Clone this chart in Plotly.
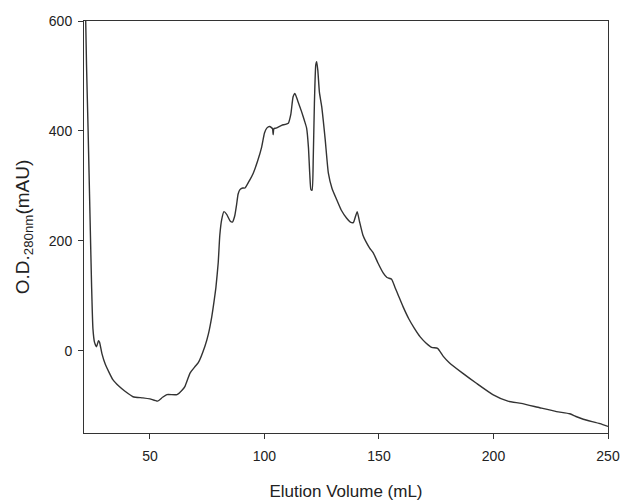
import plotly.graph_objects as go

volume_ml = [21.5, 22.3, 23.0, 23.8, 24.5, 25.1, 25.8, 26.7, 27.5, 28.0, 29.0, 30.5,
             33.8, 36.5, 39.1, 42.6, 46.9, 50.0, 53.3, 55.5, 57.4, 61.8, 64.0, 65.3,
             67.5, 69.5, 71.1, 74.0, 75.5, 77.0, 78.0, 78.8, 79.8, 80.5, 81.3, 82.3,
             83.5, 85.0, 86.0, 87.0, 87.8, 88.5, 89.3, 90.5, 91.5, 93.5, 95.1, 97.0,
             98.8, 100.0, 101.0, 102.3, 103.5, 103.8, 104.1, 105.0, 107.5, 110.4, 111.5,
             112.5, 113.3, 114.5, 116.2, 117.5, 118.4, 119.2, 119.8, 120.3, 120.8, 121.3,
             121.8, 122.4, 122.8, 123.3, 124.0, 125.0, 126.5, 127.9, 129.5, 131.5, 133.5,
             135.9, 137.5, 138.8, 139.8, 140.5, 141.5, 143.0, 144.6, 146.0, 147.5, 149.5,
             151.9, 153.5, 155.5, 157.0, 158.5, 160.5, 163.0, 165.4, 168.0, 170.5, 173.0,
             175.6, 178.0, 180.7, 186.5, 192.4, 199.7, 206.3, 212.1, 220.2, 227.5, 233.3,
             236.0, 239.2, 246.5, 250.0]
od280_mau = [700, 520, 400, 250, 120, 40, 15, 7, 18, 15, -5, -25,
             -53, -65, -74, -84, -86, -88, -92, -85, -80, -80, -72, -65,
             -41, -30, -22, 8, 30, 62, 90, 115, 160, 210, 238, 253,
             248, 236, 234, 245, 265, 285, 293, 296, 296, 310, 323, 345,
             371, 396, 405, 408, 404, 393, 404, 405, 410, 414, 430,
             462, 468, 455, 435, 418, 405, 370, 320, 293, 292, 350,
             450, 520, 526, 510, 470, 444, 385, 323, 295, 275, 256,
             241, 234, 233, 245, 253, 235, 210, 196, 186, 178, 160,
             141, 133, 130, 115, 100, 80, 58, 41, 25, 14, 6,
             4, -10, -22, -41, -59, -80, -92, -96, -104, -111, -115,
             -120, -125, -133, -138]

x_ticks = [50, 100, 150, 200, 250]
y_ticks = [0, 200, 400, 600]

FONT = "Liberation Sans, Arial"

fig = go.Figure()
fig.add_trace(go.Scatter(x=volume_ml, y=od280_mau, mode="lines",
                         line=dict(color="#333333", width=1.4, shape="spline", smoothing=0.5),
                         showlegend=False))

axis_common = dict(showline=True, linecolor="#333333", linewidth=1, mirror=True,
                   ticks="outside", ticklen=5, tickcolor="#333333", showgrid=False,
                   zeroline=False, automargin=False,
                   tickfont=dict(family=FONT, size=14, color="#222222"))

fig.update_layout(
    width=623, height=501, autosize=False,
    margin=dict(l=84, r=15, t=21, b=68),
    plot_bgcolor="white", paper_bgcolor="white",
    xaxis=dict(range=[21.2, 250], tickvals=x_ticks, ticklabelstandoff=5,
               title=dict(text="Elution Volume (mL)", standoff=22,
                          font=dict(family=FONT, size=17, color="#222222")),
               **axis_common),
    yaxis=dict(range=[-150, 600], tickvals=y_ticks, ticklabelstandoff=3,
               title=dict(text="O.D.<sub>280nm</sub>(mAU)", standoff=14,
                          font=dict(family=FONT, size=19, color="#222222")),
               **axis_common),
)

fig.write_html("out.html",
               config={"displayModeBar": False, "responsive": False},
               post_script="document.body.style.margin='0';document.body.style.overflow='hidden';")
